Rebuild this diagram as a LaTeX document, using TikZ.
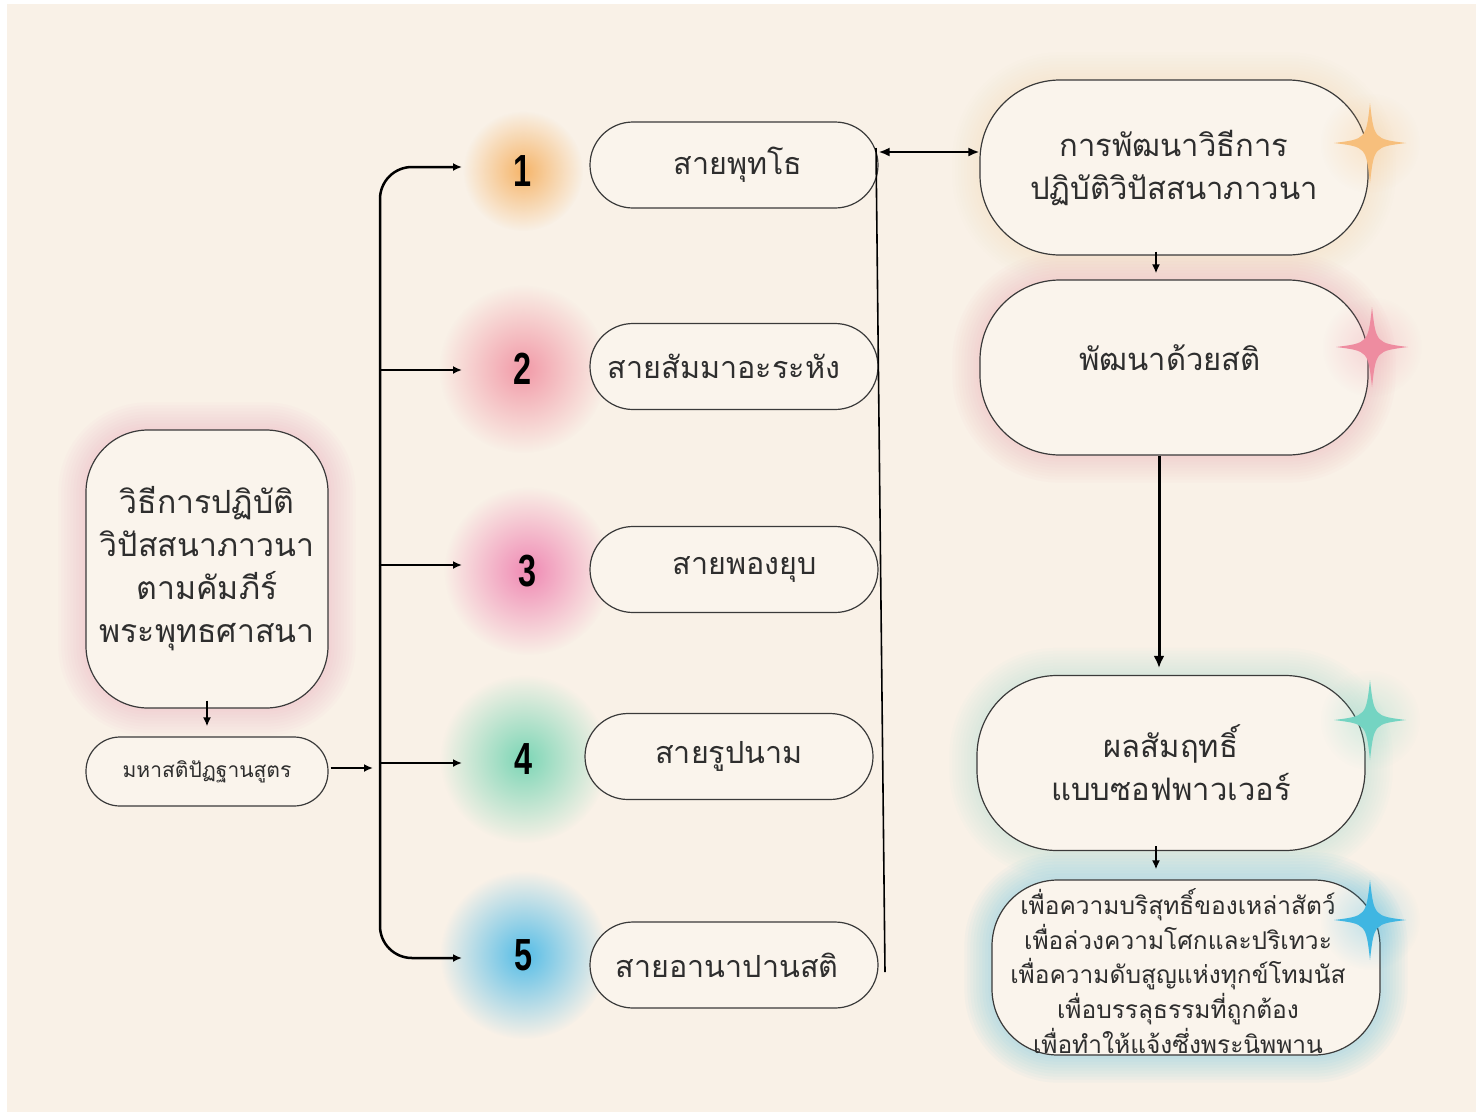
\documentclass[tikz,border=0pt]{standalone}
\usepackage{fontspec}
\setmainfont{Liberation Sans}
\newfontfamily\thai[Script=Thai]{Loma}
\usetikzlibrary{arrows.meta,fadings}
\definecolor{bgc}{HTML}{F9F1E7}
\definecolor{boxfill}{HTML}{FAF4EC}
\definecolor{edge}{HTML}{3A3A3A}
\definecolor{txt}{HTML}{2E2E2E}
\definecolor{gorange}{HTML}{F6B56A}
\definecolor{gred}{HTML}{F29AA8}
\definecolor{gpink}{HTML}{F08AB4}
\definecolor{ggreen}{HTML}{7CD6B6}
\definecolor{gblue}{HTML}{55BDE8}
\definecolor{sorange}{HTML}{F7BF7C}
\definecolor{spink}{HTML}{EE8CA0}
\definecolor{steal}{HTML}{74D4C2}
\definecolor{sblue}{HTML}{3FB6E2}
\definecolor{lpink}{HTML}{F2A7BC}
\tikzfading[name=softglow, inner color=transparent!0, outer color=transparent!100]
\pgfdeclarelayer{under}
\pgfsetlayers{under,main}
\newcommand\glowbox[4]{%
  \foreach \w in {6,12,...,54}{%
    \draw[#2, draw opacity=#4, line width=\w pt, rounded corners=#3]
      (#1.north west) rectangle (#1.south east);}}
\begin{document}
\begin{tikzpicture}[x=1pt,y=-1pt,
  thaitext/.style={text=txt, align=center, inner sep=0pt},
  midbox/.style={draw=edge, fill=boxfill, line width=1.2pt, rounded corners=43pt,
    minimum width=288pt, minimum height=86pt, inner sep=0pt, text=txt,
    font=\thai\fontsize{30.5}{40}\selectfont},
  rbox/.style={draw=edge, fill=boxfill, line width=1.2pt, rounded corners=80pt,
    minimum width=388pt, minimum height=175pt, inner sep=0pt, text=txt, align=center,
    font=\thai\fontsize{31}{43}\selectfont},
  bigbox/.style={draw=edge, fill=boxfill, line width=1.2pt, rounded corners=62pt,
    minimum width=242pt, minimum height=278pt, inner sep=0pt, text=txt, align=center,
    font=\thai\fontsize{32}{43}\selectfont},
  smallbox/.style={draw=edge, fill=boxfill, line width=1.2pt, rounded corners=34pt,
    minimum width=242pt, minimum height=69pt, inner sep=0pt, text=txt,
    font=\thai\fontsize{21}{26}\selectfont},
  numnode/.style={inner sep=0pt, text=black,
    font=\fontsize{45}{45}\selectfont\bfseries},
  arr/.style={line width=2pt, -{Latex[length=9pt,width=8pt]}},
  busline/.style={line width=2.5pt, -{Latex[length=9pt,width=8pt]}},
  sparkle/.pic={\fill[#1] (0,-40) .. controls (4,-4) .. (36,0) .. controls (4,4) .. (0,40)
     .. controls (-4,4) .. (-36,0) .. controls (-4,-4) .. (0,-40);}
]
\useasboundingbox (0,0) rectangle (1476,1112);
% ---------- nodes ----------
\node[bigbox] (L) at (207,569) {วิธีการปฏิบัติ\\วิปัสสนาภาวนา\\ตามคัมภีร์\\พระพุทธศาสนา};
\node[smallbox] (S) at (207,771.5) {มหาสติปัฏฐานสูตร};

\node[numnode] (n1) at (523,171) {\scalebox{0.72}[1]{1}};
\node[numnode] (n2) at (523,369) {\scalebox{0.72}[1]{2}};
\node[numnode] (n3) at (528,571) {\scalebox{0.72}[1]{3}};
\node[numnode] (n4) at (524,759) {\scalebox{0.72}[1]{4}};
\node[numnode] (n5) at (524,955) {\scalebox{0.72}[1]{5}};

\node[midbox] (m1) at (734,165) {\hspace*{8pt}สายพุทโธ};
\node[midbox] (m2) at (734,366.5) {สายสัมมาอะระหัง\hspace*{20pt}};
\node[midbox] (m3) at (734,569.5) {\hspace*{22pt}สายพองยุบ};
\node[midbox] (m4) at (729,756.5) {สายรูปนาม};
\node[midbox] (m5) at (734,965) {สายอานาปานสติ\hspace*{14pt}};

\node[rbox] (R1) at (1174,167.5) {การพัฒนาวิธีการ\\ปฏิบัติวิปัสสนาภาวนา};
\node[rbox] (R2) at (1174,367.5) {};
\node[thaitext, font=\thai\fontsize{31}{43}\selectfont] (R2t) at (1170,358) {พัฒนาด้วยสติ};
\node[rbox] (R3) at (1171,763) {ผลสัมฤทธิ์\\แบบซอฟพาวเวอร์};
\node[rbox, rounded corners=66pt] (R4) at (1186,967.5) {};
\node[thaitext, font=\thai\fontsize{24.5}{34.8}\selectfont] (R4t) at (1178,971)
  {เพื่อความบริสุทธิ์ของเหล่าสัตว์\\เพื่อล่วงความโศกและปริเทวะ\\เพื่อความดับสูญแห่งทุกข์โทมนัส\\เพื่อบรรลุธรรมที่ถูกต้อง\\เพื่อทำให้แจ้งซึ่งพระนิพพาน};

% ---------- background and glows ----------
\begin{pgfonlayer}{under}
  \fill[white] (0,0) rectangle (1476,1112);
  \fill[bgc] (7,4) rectangle (1476,1112);
  \glowbox{L}{lpink}{62pt}{0.045}
  \glowbox{R1}{gorange}{80pt}{0.015}
  \glowbox{R2}{gred}{80pt}{0.035}
  \glowbox{R3}{steal}{80pt}{0.025}
  \glowbox{R4}{sblue}{66pt}{0.035}
  \fill[gorange, path fading=softglow] (n1) circle (60pt);
  \fill[gred, path fading=softglow] (n2) circle (84pt);
  \fill[gpink, path fading=softglow] (n3) circle (84pt);
  \fill[ggreen, path fading=softglow] (n4) circle (84pt);
  \fill[gblue, path fading=softglow] (n5) circle (84pt);
\end{pgfonlayer}

% ---------- connectors ----------
\coordinate (a1) at (462,167);
\coordinate (a2) at (462,370);
\coordinate (a3) at (462,565);
\coordinate (a4) at (462,763);
\coordinate (a5) at (462,958);
\coordinate (bus) at (380,565);
\coordinate (busin) at (373,768);

\draw[arr] ([yshift=8pt]L.south) -- ([yshift=10pt]S.north);
\draw[arr] (S.east |- busin) ++(2,0) -- (busin);
\draw[busline, rounded corners=32pt] (bus) |- (a1);
\draw[busline, rounded corners=32pt] (bus) |- (a5);
\draw[arr] (bus |- a2) -- (a2);
\draw[arr] (bus |- a3) -- (a3);
\draw[arr] (bus |- a4) -- (a4);

\coordinate (vt) at (876,148);
\coordinate (vb) at (885,972);
\draw[line width=1.6pt] (vt) -- (vb);
\draw[line width=2pt, {Latex[length=11pt,width=9pt]}-{Latex[length=11pt,width=9pt]}]
  ([yshift=13pt]m1.east) -- ([yshift=13pt]m1.east -| R1.west);

\draw[arr] ([xshift=-18pt,yshift=4pt]R1.south) -- ([xshift=-18pt,yshift=6pt]R2.north);
\draw[line width=3pt, -{Latex[length=12pt,width=11pt]}] ([xshift=-15pt]R2.south) -- ([xshift=-12pt,yshift=7pt]R3.north);
\draw[arr] ([xshift=-15pt,yshift=5pt]R3.south) -- ([xshift=-30pt,yshift=10pt]R4.north);

% ---------- sparkles ----------
\fill[sorange, path fading=softglow, fill opacity=0.3] (1370,143) circle (50pt);
\fill[spink, path fading=softglow, fill opacity=0.3] (1372,347) circle (50pt);
\fill[steal, path fading=softglow, fill opacity=0.3] (1370,720) circle (50pt);
\fill[sblue, path fading=softglow, fill opacity=0.3] (1370,920) circle (50pt);
\pic at (1370,143) {sparkle=sorange};
\pic at (1372,347) {sparkle=spink};
\pic at (1370,720) {sparkle=steal};
\pic at (1370,920) {sparkle=sblue};
\end{tikzpicture}
\end{document}
